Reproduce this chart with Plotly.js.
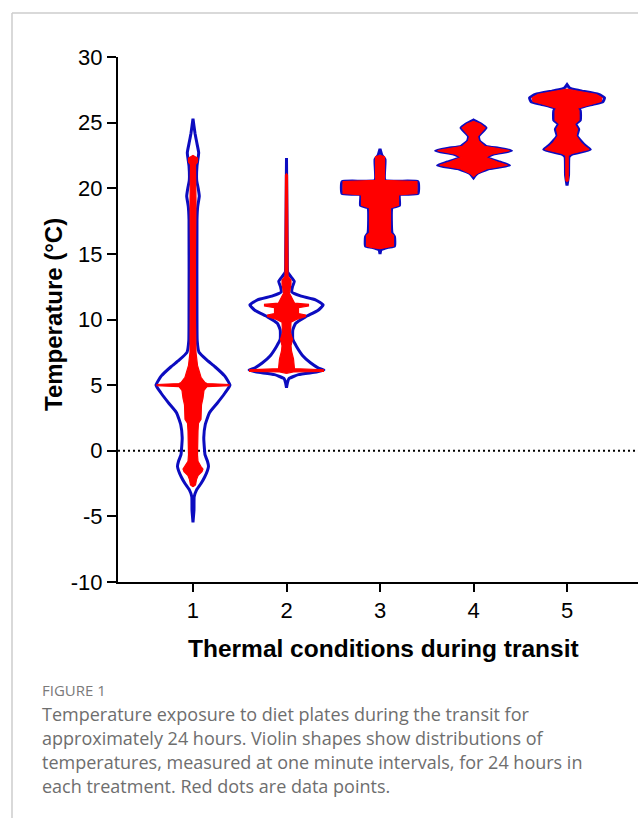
<!DOCTYPE html>
<html>
<head>
<meta charset="utf-8">
<script src="https://cdn.plot.ly/plotly-3.0.1.min.js"></script>
<style>
  html, body { margin: 0; padding: 0; background: #fff; }
  #chart { width: 638px; height: 818px; }
</style>
</head>
<body>
<div id="chart"></div>
<script>
// ---------------- DATA ----------------
const categories = [1, 2, 3, 4, 5];
const xTickLabels = ['1', '2', '3', '4', '5'];
const yTickValues = [-10, -5, 0, 5, 10, 15, 20, 25, 30];
const yTickLabels = ['-10', '-5', '0', '5', '10', '15', '20', '25', '30'];

// Violin outlines: temperature levels (°C) and relative density (max = 38)
const tempV1 = [-5.45, -4.5, -3.5, -3.0, -2.5, -2.0, -1.5, -1.2, -0.8, -0.3, 0.1, 1.0, 2.0, 2.9, 3.6, 4.4, 5.0, 5.7, 6.4, 6.9, 7.5, 8.4, 10, 17.6, 18.6, 19.4, 20.0, 20.6, 21.7, 22.7, 23.4, 24.2, 25.3];
const densV1 = [0, 1.0, 1.2, 3.5, 8, 11.7, 14.5, 15.5, 14.5, 12, 11.5, 10.8, 12.3, 16.5, 24, 32, 37, 31.7, 22, 14, 6, 4.2, 4, 4, 4.7, 6.3, 5.2, 3.7, 4, 5.7, 4, 2, 0];

const tempV2 = [4.8, 5.2, 5.5, 5.8, 6.0, 6.15, 6.3, 6.7, 7.2, 7.95, 8.5, 9.2, 9.7, 10.2, 10.7, 11.1, 11.5, 11.8, 12.1, 12.5, 12.9, 13.3, 13.6, 15, 22.3];
const densV2 = [0, 1, 2.5, 12, 30, 37.5, 32, 24, 16.7, 10, 6.3, 6.3, 9, 19, 31.7, 36.7, 29, 14, 5.3, 6, 7.8, 4, 1.2, 0.8, 0];

const tempV3 = [15.0, 15.3, 15.5, 15.6, 16.3, 16.6, 18.5, 18.7, 19.5, 19.6, 20.5, 20.6, 22.2, 22.5, 23.0];
const densV3 = [0, 1, 8, 14.5, 14.5, 12, 12, 19.5, 19.5, 38, 38, 5, 5, 2, 0];

const tempV4 = [20.8, 21.0, 21.15, 21.5, 21.75, 22.0, 22.35, 22.6, 22.86, 23.05, 23.2, 23.6, 23.95, 24.3, 24.6, 24.9, 25.2];
const densV4 = [0, 2, 4, 16, 36, 26, 13.3, 20, 38, 25, 12.5, 6, 5, 9, 12.5, 7.5, 0];

const tempV5 = [20.2, 21.0, 22.4, 22.6, 22.95, 23.2, 23.5, 24.0, 24.5, 24.9, 25.2, 25.9, 26.1, 26.4, 26.6, 26.9, 27.15, 27.4, 27.5, 27.65, 27.9];
const densV5 = [0, 1.5, 2, 5, 23.3, 19, 15, 10, 11.7, 8.7, 13.3, 13.3, 11.7, 26, 36, 37.5, 31.7, 15, 8, 2.5, 0];

// Spread of the red data points (same relative units)
const ptTempV1 = [-2.75, -2.6, -2.2, -1.9, -1.6, -1.4, -1.2, -0.8, -0.3, 0.5, 1.5, 2.1, 2.4, 3.5, 4.0, 4.6, 4.88, 4.95, 5.05, 5.12, 5.2, 5.6, 6.5, 7.5, 10, 15, 19, 21.8, 22.0, 22.3, 22.5];
const ptSpreadV1 = [0, 2.5, 3.5, 5, 9, 10, 8, 5, 4.5, 4.5, 5, 5.5, 8, 8.5, 10, 11, 14, 36, 36, 14, 12, 8, 4.5, 3, 2.5, 2.5, 3, 2.5, 4.5, 4.5, 0];

const ptTempV2 = [5.9, 6.0, 6.05, 6.17, 6.25, 7.0, 7.6, 8.0, 8.5, 9.0, 9.8, 10.0, 10.22, 10.35, 10.45, 10.9, 11.02, 11.15, 11.25, 12.0, 12.7, 13.0, 13.3, 21.0, 21.1];
const ptSpreadV2 = [0, 7, 37, 37, 8, 7, 5, 4.5, 6, 4, 4.5, 10, 19, 19, 12, 12, 22, 22, 8, 3, 4.5, 4.5, 1.5, 1, 0];

const ptTempV3 = [15.4, 15.5, 15.6, 16.4, 16.6, 18.5, 18.7, 19.5, 19.6, 20.5, 20.6, 22.4, 22.5];
const ptSpreadV3 = [0, 9, 13.5, 13.5, 10.5, 10.5, 18.5, 18.5, 37, 37, 4.5, 4.5, 0];

const ptTempV4 = [20.9, 21.1, 21.5, 21.75, 22.0, 22.35, 22.6, 22.86, 23.05, 23.2, 23.6, 23.95, 24.3, 24.6, 24.9, 25.1];
const ptSpreadV4 = [0, 3, 14, 34, 24, 12, 18, 36, 23, 11, 5, 4, 8, 11.5, 6.5, 0];

const ptTempV5 = [20.5, 20.6, 22.5, 22.65, 22.95, 23.2, 23.5, 24.0, 24.5, 24.9, 25.2, 25.9, 26.1, 26.4, 26.6, 26.9, 27.15, 27.35, 27.5, 27.55];
const ptSpreadV5 = [0, 1.2, 1.2, 5, 22, 17.5, 13.5, 9, 10.5, 7.5, 12, 12, 10.5, 24, 34, 35, 29, 14, 4, 0];

const xTitle = 'Thermal conditions during transit';
const yTitle = 'Temperature (°C)';
const figLabel = 'FIGURE 1';
const captionLines = [
  'Temperature exposure to diet plates during the transit for',
  'approximately 24 hours. Violin shapes show distributions of',
  'temperatures, measured at one minute intervals, for 24 hours in',
  'each treatment. Red dots are data points.'
];

// ---------------- DRAWING ----------------
const DENS_MAX = 38;       // relative density units of the widest violin
const HALF_WIDTH = 0.406;  // half width (category units) at max density
const BLUE = '#0c0cc0';
const RED = '#ff0000';

const violins = [
  {t: tempV1, d: densV1, pt: ptTempV1, ps: ptSpreadV1},
  {t: tempV2, d: densV2, pt: ptTempV2, ps: ptSpreadV2},
  {t: tempV3, d: densV3, pt: ptTempV3, ps: ptSpreadV3},
  {t: tempV4, d: densV4, pt: ptTempV4, ps: ptSpreadV4},
  {t: tempV5, d: densV5, pt: ptTempV5, ps: ptSpreadV5}
];

function outline(cat, temps, dens) {
  const k = HALF_WIDTH / DENS_MAX;
  const xs = [], ys = [];
  for (let i = 0; i < temps.length; i++) { xs.push(cat + dens[i] * k); ys.push(temps[i]); }
  for (let i = temps.length - 1; i >= 0; i--) { xs.push(cat - dens[i] * k); ys.push(temps[i]); }
  xs.push(xs[0]); ys.push(ys[0]);
  return {xs, ys};
}

const traces = [];
violins.forEach((v, i) => {
  const o = outline(categories[i], v.t, v.d);
  traces.push({
    type: 'scatter', mode: 'lines', x: o.xs, y: o.ys,
    line: {color: BLUE, width: 3, shape: 'spline', smoothing: 0.4},
    hoverinfo: 'skip', showlegend: false
  });
});
violins.forEach((v, i) => {
  const o = outline(categories[i], v.pt, v.ps);
  traces.push({
    type: 'scatter', mode: 'lines', x: o.xs, y: o.ys,
    fill: 'toself', fillcolor: RED,
    line: {color: RED, width: 1.2},
    hoverinfo: 'skip', showlegend: false
  });
});

// pixel helpers for decorations / text placement
const W = 638, H = 818;
const M = {l: 118, r: 0, t: 57, b: 236};
const PW = W - M.l - M.r, PH = H - M.t - M.b;
const px = v => (v - M.l) / PW;
const py = v => (H - M.b - v) / PH;

const annotations = [
  {text: '<b>' + xTitle + '</b>', x: px(383), y: py(648), xref: 'paper', yref: 'paper',
   showarrow: false, xanchor: 'center', yanchor: 'middle',
   font: {family: 'Liberation Sans, Arial, sans-serif', size: 24.5, color: '#000'}},
  {text: '<b>' + yTitle + '</b>', x: px(53), y: py(315), xref: 'paper', yref: 'paper',
   showarrow: false, xanchor: 'center', yanchor: 'middle', textangle: -90,
   font: {family: 'Liberation Sans, Arial, sans-serif', size: 24, color: '#000'}},
  {text: figLabel, x: px(40), y: py(690), xref: 'paper', yref: 'paper',
   showarrow: false, xanchor: 'left', yanchor: 'middle',
   font: {family: 'Open Sans, sans-serif', size: 15, color: '#7a7a7a'}}
];
captionLines.forEach((line, i) => {
  annotations.push({
    text: line, x: px(40), y: py(714 + i * 24), xref: 'paper', yref: 'paper',
    showarrow: false, xanchor: 'left', yanchor: 'middle',
    font: {family: 'Open Sans, sans-serif', size: 18, color: '#6e6e6e'}
  });
});

const shapes = [
  {type: 'line', xref: 'paper', yref: 'y', x0: 0, x1: 1, y0: 0, y1: 0, layer: 'below',
   line: {color: '#000', width: 2, dash: '2px,3px'}},
  {type: 'line', xref: 'paper', yref: 'paper', x0: px(12), x1: px(640), y0: py(13), y1: py(13),
   line: {color: '#cccccc', width: 1.5}},
  {type: 'line', xref: 'paper', yref: 'paper', x0: px(12), x1: px(12), y0: py(13), y1: py(820),
   line: {color: '#cccccc', width: 1.5}}
];

const layout = {
  width: W, height: H,
  margin: M,
  paper_bgcolor: '#fff', plot_bgcolor: '#fff',
  font: {family: 'Liberation Sans, Arial, sans-serif', color: '#000'},
  showlegend: false,
  xaxis: {
    range: [0.198, 5.759], tickmode: 'array', tickvals: categories, ticktext: xTickLabels,
    ticks: 'outside', ticklen: 8, tickwidth: 2, tickcolor: '#000',
    showline: true, linecolor: '#000', linewidth: 2,
    showgrid: false, zeroline: false, fixedrange: true,
    tickfont: {size: 22, color: '#000'}
  },
  yaxis: {
    range: [-10, 30], tickmode: 'array', tickvals: yTickValues, ticktext: yTickLabels,
    ticks: 'outside', ticklen: 9, tickwidth: 2, tickcolor: '#000',
    showline: true, linecolor: '#000', linewidth: 2,
    showgrid: false, zeroline: false, fixedrange: true,
    tickfont: {size: 22, color: '#000'}
  },
  annotations: annotations,
  shapes: shapes
};

Plotly.newPlot('chart', traces, layout, {staticPlot: true, displayModeBar: false});
</script>
</body>
</html>
